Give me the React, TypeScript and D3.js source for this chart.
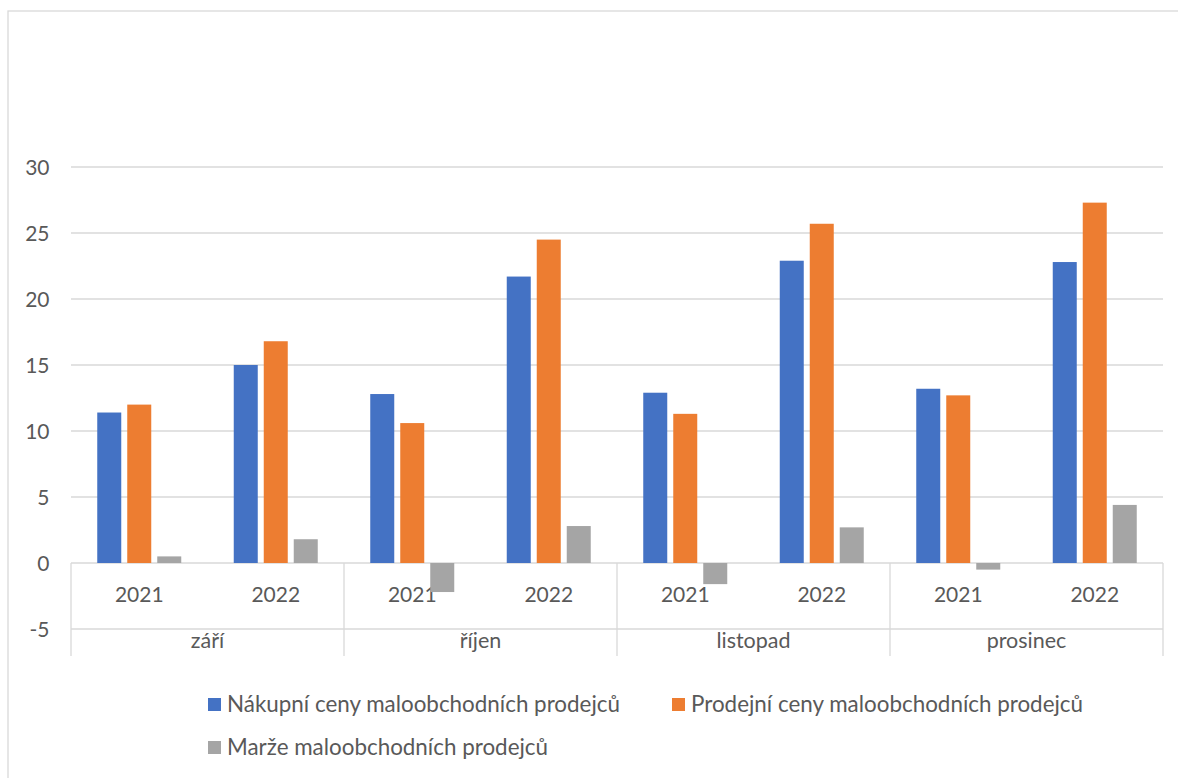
import React from "react";
import * as d3 from "d3";

const months = ["září", "říjen", "listopad", "prosinec"];
const years = ["2021", "2022"];
const seriesNames = [
  "Nákupní ceny maloobchodních prodejců",
  "Prodejní ceny maloobchodních prodejců",
  "Marže maloobchodních prodejců",
];
// values in order: září 2021, září 2022, říjen 2021, říjen 2022, listopad 2021, listopad 2022, prosinec 2021, prosinec 2022
const nakupni = [11.4, 15.0, 12.8, 21.7, 12.9, 22.9, 13.2, 22.8];
const prodejni = [12.0, 16.8, 10.6, 24.5, 11.3, 25.7, 12.7, 27.3];
const marze = [0.5, 1.8, -2.2, 2.8, -1.6, 2.7, -0.5, 4.4];
const yTicks = [-5, 0, 5, 10, 15, 20, 25, 30];
const colors = ["#4472C4", "#ED7D31", "#A5A5A5"];

const FONT = "Lato, 'Open Sans', sans-serif";
const TEXT = "#595959";
const GRID = "#D9D9D9";

export default function App() {
  const W = 1178;
  const H = 778;
  const left = 71;
  const right = 1163;
  const y = d3.scaleLinear().domain([-5, 30]).range([629, 167]);
  const xMonth = d3.scaleBand<string>().domain(months).range([left, right]);
  const xYear = d3.scaleBand<string>().domain(years).range([0, xMonth.bandwidth()]);
  const xSeries = d3
    .scaleBand<number>()
    .domain([0, 1, 2])
    .range([0, xYear.bandwidth()])
    .paddingInner(0.2)
    .paddingOuter(0.875);
  const allSeries = [nakupni, prodejni, marze];

  const bars: React.ReactNode[] = [];
  months.forEach((m, mi) => {
    years.forEach((yr, yi) => {
      const idx = mi * years.length + yi;
      allSeries.forEach((s, si) => {
        const v = s[idx];
        const x0 = (xMonth(m) as number) + (xYear(yr) as number) + (xSeries(si) as number);
        const y0 = y(Math.max(0, v));
        const y1 = y(Math.min(0, v));
        bars.push(
          <rect
            key={`${m}-${yr}-${si}`}
            x={x0}
            y={y0}
            width={xSeries.bandwidth()}
            height={y1 - y0}
            fill={colors[si]}
          />
        );
      });
    });
  });

  const separators = [...months.map((m) => xMonth(m) as number), right];

  return (
    <svg
      width={W}
      height={H}
      style={{ position: "absolute", left: 0, top: 0, background: "#fff" }}
      fontFamily={FONT}
    >
      <rect x={0} y={0} width={W} height={H} fill="#fff" />
      <rect x={8} y={11} width={W + 20} height={H + 20} fill="none" stroke={GRID} strokeWidth={1.3} />
      {yTicks.map((t) => (
        <g key={t}>
          <line x1={left} x2={right} y1={y(t)} y2={y(t)} stroke={GRID} strokeWidth={1.3} />
          <text x={49.5} y={y(t) + 7.5} textAnchor="end" fontSize={21} fill={TEXT}>
            {t}
          </text>
        </g>
      ))}
      {separators.map((sx, i) => (
        <line key={i} x1={sx} x2={sx} y1={y(0)} y2={656} stroke={GRID} strokeWidth={1.3} />
      ))}
      {months.map((m) => (
        <g key={m}>
          {years.map((yr) => (
            <text
              key={yr}
              x={(xMonth(m) as number) + (xYear(yr) as number) + xYear.bandwidth() / 2}
              y={602}
              textAnchor="middle"
              fontSize={21}
              fill={TEXT}
            >
              {yr}
            </text>
          ))}
          <text
            x={(xMonth(m) as number) + xMonth.bandwidth() / 2}
            y={648}
            textAnchor="middle"
            fontSize={21.5}
            fill={TEXT}
          >
            {m}
          </text>
        </g>
      ))}
      {bars}
      {[
        { x: 208, y: 698, i: 0 },
        { x: 672, y: 698, i: 1 },
        { x: 208, y: 741, i: 2 },
      ].map((l) => (
        <g key={l.i}>
          <rect x={l.x} y={l.y} width={13} height={13} fill={colors[l.i]} />
          <text x={l.x + 19} y={l.y + 14} fontSize={22.4} fill={TEXT}>
            {seriesNames[l.i]}
          </text>
        </g>
      ))}
    </svg>
  );
}
